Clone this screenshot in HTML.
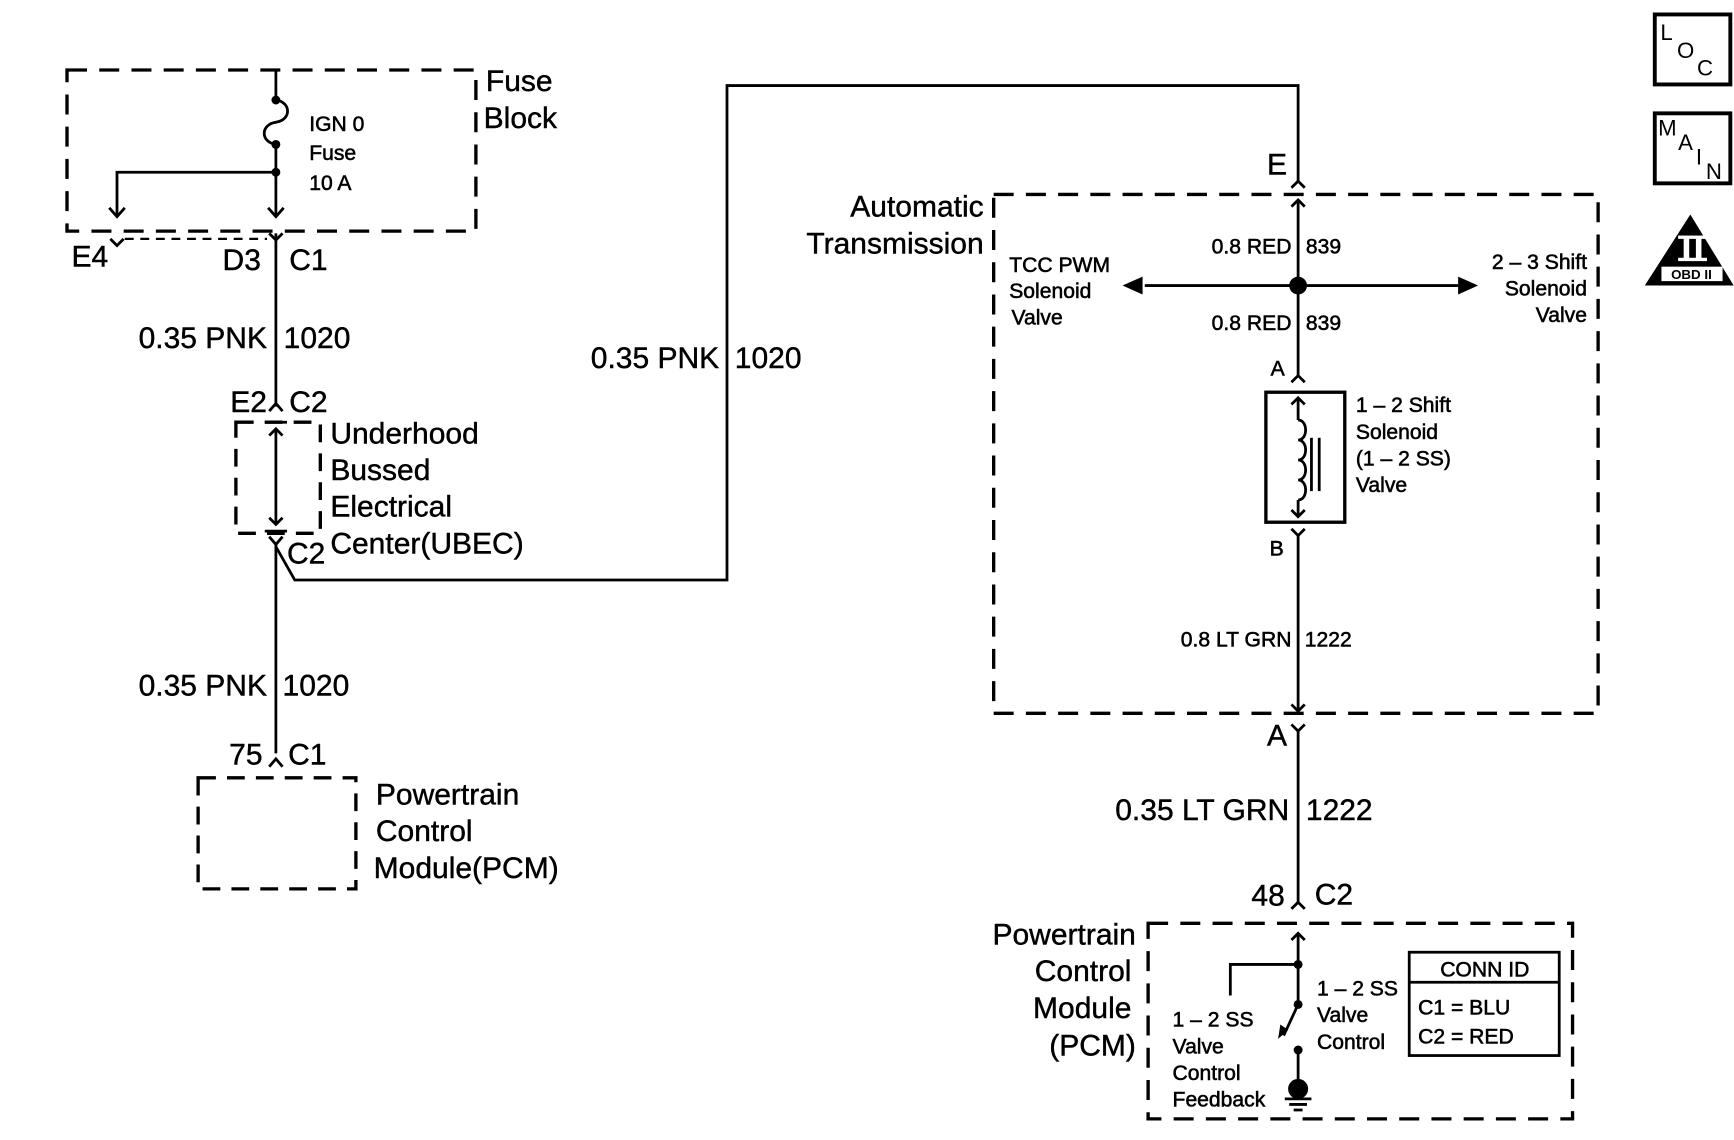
<!DOCTYPE html>
<html><head><meta charset="utf-8"><style>
html,body{margin:0;padding:0;background:#fff}
svg{display:block}
text{font-family:"Liberation Sans",Arial,sans-serif;fill:#000}
.L{font-size:27px;stroke:#000;stroke-width:0.4}.S{font-size:19px;stroke:#000;stroke-width:0.5}
</style></head><body>
<svg width="1734" height="1140" viewBox="0 0 1560 1026" xmlns="http://www.w3.org/2000/svg">
<g fill="none" stroke="#000" stroke-width="3">
<rect x="60" y="63" width="368" height="145" stroke-dasharray="18 11"/>
<rect x="212" y="380" width="76" height="100" stroke-dasharray="16 10"/>
<rect x="178" y="700" width="142" height="100" stroke-dasharray="16 10"/>
<rect x="894" y="175" width="544" height="467" stroke-dasharray="18 11"/>
<rect x="1033" y="831" width="382" height="176" stroke-dasharray="18 11"/>
<line x1="112" y1="215" x2="240" y2="215" stroke-width="2" stroke-dasharray="8 6"/>
</g>
<g fill="none" stroke="#000" stroke-width="2.5">
<line x1="248" y1="63" x2="248" y2="90"/>
<path d="M248 90 C262 92 262 108 248 110 C234 112 234 128 248 130"/>
<line x1="248" y1="130" x2="248" y2="195"/>
<polyline points="248,155 105,155 105,195"/>
<polyline points="241,187 248,195 255,187"/>
<polyline points="98,187 105,195 112,187"/>
<polyline points="99,215 105,221 111,215"/>
<polyline points="242,210 248,216 254,210"/>
<line x1="248" y1="210" x2="248" y2="366"/>
<polyline points="242,370 248,363 254,370"/>
<line x1="238" y1="380" x2="258" y2="380"/>
<line x1="238" y1="478" x2="258" y2="478"/>
<line x1="248" y1="386" x2="248" y2="472"/>
<polyline points="242,392 248,386 254,392"/>
<polyline points="242,466 248,472 254,466"/>
<polyline points="242,483 248,490 254,483"/>
<line x1="248" y1="488" x2="248" y2="678"/>
<polyline points="248,492 265,522 654,522 654,77 1168,77 1168,163"/>
<polyline points="242,690 248,683 254,690"/>
<polyline points="1162,169 1168,163 1174,169"/>
<line x1="1168" y1="180" x2="1168" y2="338"/>
<polyline points="1162,186 1168,180 1174,186"/>
<line x1="1030" y1="257" x2="1312" y2="257"/>
<polyline points="1162,344 1168,338 1174,344"/>
<rect x="1139" y="353" width="71" height="117" stroke-width="3"/>
<line x1="1168" y1="358" x2="1168" y2="378"/>
<polyline points="1162,364 1168,358 1174,364"/>
<path d="M1168 378 c9 0 9 18 0 18 c9 0 9 18 0 18 c9 0 9 18 0 18 c9 0 9 18 0 18"/>
<line x1="1168" y1="450" x2="1168" y2="465"/>
<polyline points="1162,459 1168,465 1174,459"/>
<line x1="1180" y1="394" x2="1180" y2="442"/>
<line x1="1187" y1="394" x2="1187" y2="442"/>
<polyline points="1162,476 1168,482 1174,476"/>
<line x1="1168" y1="482" x2="1168" y2="640"/>
<polyline points="1162,634 1168,640 1174,634"/>
<polyline points="1162,652 1168,658 1174,652"/>
<line x1="1168" y1="658" x2="1168" y2="812"/>
<polyline points="1162,818 1168,812 1174,818"/>
<line x1="1168" y1="840" x2="1168" y2="904"/>
<polyline points="1162,846 1168,840 1174,846"/>
<polyline points="1168,868 1107,868 1107,896"/>
<line x1="1168" y1="904" x2="1155" y2="932"/>
<line x1="1168" y1="945" x2="1168" y2="978"/>
<line x1="1156" y1="989" x2="1180" y2="989"/>
<line x1="1160" y1="994" x2="1176" y2="994"/>
<line x1="1164" y1="999" x2="1172" y2="999"/>
<rect x="1268" y="857" width="135" height="93"/>
<line x1="1268" y1="884" x2="1403" y2="884"/>
<rect x="1489" y="13" width="68" height="63" stroke-width="3.5"/>
<rect x="1489" y="102" width="68" height="63" stroke-width="3.5"/>
</g>
<g fill="#000">
<circle cx="248" cy="90" r="4"/><circle cx="248" cy="130" r="4"/><circle cx="248" cy="155" r="4"/>
<circle cx="1168" cy="257" r="8"/>
<polygon points="1010,257 1028,249 1028,265"/>
<polygon points="1330,257 1312,249 1312,265"/>
<circle cx="1168" cy="868" r="4"/><circle cx="1168" cy="904" r="4"/><circle cx="1168" cy="945" r="4"/>
<circle cx="1168" cy="980" r="9"/>
<polygon points="1150,935 1152,922 1159,927"/>
<polygon points="1521,193 1480,257 1560,257"/>
</g>
<rect x="1495" y="240" width="55" height="13" fill="#fff"/>
<rect x="1510" y="212" width="26" height="3" fill="#fff"/><rect x="1510" y="232" width="26" height="3" fill="#fff"/>
<rect x="1515" y="214" width="5" height="19" fill="#fff"/><rect x="1526" y="214" width="5" height="19" fill="#fff"/>
<text x="1522" y="251" font-size="12" text-anchor="middle" font-weight="bold">OBD II</text>
<text x="1494" y="36" font-size="20">L</text><text x="1509" y="52" font-size="20">O</text><text x="1527" y="68" font-size="20">C</text>
<text x="1492" y="122" font-size="20">M</text><text x="1510" y="135" font-size="20">A</text><text x="1526" y="148" font-size="20">I</text><text x="1535" y="161" font-size="20">N</text>

<g class="S">
<text x="278" y="118">IGN 0</text><text x="278" y="144">Fuse</text><text x="278" y="171">10 A</text>
<text x="1162" y="228" text-anchor="end">0.8 RED</text><text x="1175" y="228">839</text>
<text x="1162" y="297" text-anchor="end">0.8 RED</text><text x="1175" y="297">839</text>
<text x="908" y="245">TCC PWM</text><text x="908" y="268">Solenoid</text><text x="910" y="292">Valve</text>
<text x="1428" y="242" text-anchor="end">2 – 3 Shift</text><text x="1428" y="266" text-anchor="end">Solenoid</text><text x="1428" y="290" text-anchor="end">Valve</text>
<text x="1156" y="338" text-anchor="end">A</text><text x="1155" y="500" text-anchor="end">B</text>
<text x="1220" y="371">1 – 2 Shift</text><text x="1220" y="395">Solenoid</text><text x="1220" y="419">(1 – 2 SS)</text><text x="1220" y="443">Valve</text>
<text x="1162" y="582" text-anchor="end">0.8 LT GRN</text><text x="1174" y="582">1222</text>
<text x="1055" y="924">1 – 2 SS</text><text x="1055" y="948">Valve</text><text x="1055" y="972">Control</text><text x="1055" y="996">Feedback</text>
<text x="1185" y="896">1 – 2 SS</text><text x="1185" y="920">Valve</text><text x="1185" y="944">Control</text>
<text x="1336" y="879" text-anchor="middle">CONN ID</text>
<text x="1276" y="913">C1  =  BLU</text><text x="1276" y="939">C2  =  RED</text>
</g>
<g class="L">
<text x="437" y="82">Fuse</text><text x="435" y="115">Block</text>
<text x="64" y="240">E4</text><text x="200" y="243">D3</text><text x="260" y="243">C1</text>
<text x="240" y="313" text-anchor="end">0.35 PNK</text><text x="255" y="313">1020</text>
<text x="240" y="371" text-anchor="end">E2</text><text x="260" y="371">C2</text>
<text x="297" y="399">Underhood</text><text x="297" y="432">Bussed</text><text x="297" y="465">Electrical</text><text x="297" y="498">Center(UBEC)</text>
<text x="258" y="507">C2</text>
<text x="647" y="331" text-anchor="end">0.35 PNK</text><text x="661" y="331">1020</text>
<text x="240" y="626" text-anchor="end">0.35 PNK</text><text x="254" y="626">1020</text>
<text x="236" y="688" text-anchor="end">75</text><text x="259" y="688">C1</text>
<text x="338" y="724">Powertrain</text><text x="338" y="757">Control</text><text x="336" y="790">Module(PCM)</text>
<text x="1158" y="157" text-anchor="end">E</text>
<text x="885" y="195" text-anchor="end">Automatic</text><text x="885" y="228" text-anchor="end">Transmission</text>
<text x="1158" y="671" text-anchor="end">A</text>
<text x="1160" y="738" text-anchor="end">0.35 LT GRN</text><text x="1175" y="738">1222</text>
<text x="1156" y="815" text-anchor="end">48</text><text x="1183" y="814">C2</text>
<text x="1022" y="850" text-anchor="end">Powertrain</text><text x="1018" y="883" text-anchor="end">Control</text><text x="1018" y="916" text-anchor="end">Module</text><text x="1022" y="950" text-anchor="end">(PCM)</text>
</g>
</svg>
</body></html>
